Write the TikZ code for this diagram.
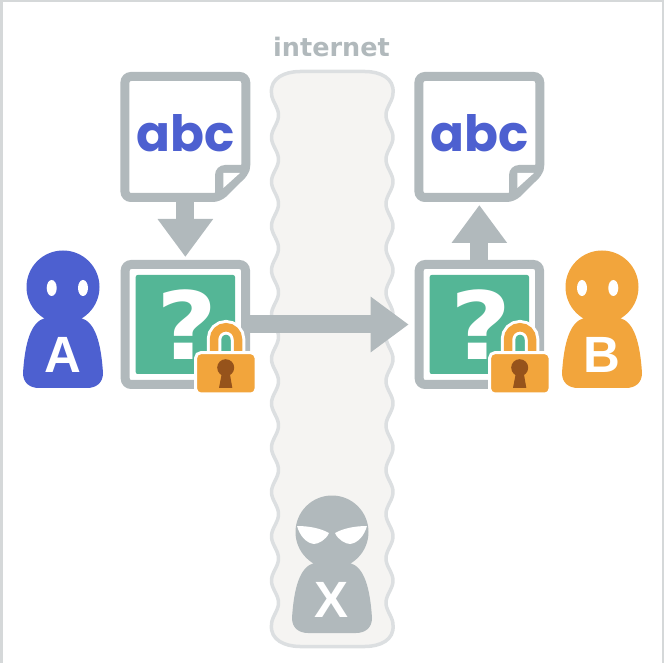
\documentclass[tikz,border=0pt]{standalone}
\usepackage{fontspec}
\setmainfont{Liberation Sans}
\newfontfamily\widefont{DejaVu Sans}
\newfontfamily\roundfont{Poppins}
\usetikzlibrary{arrows.meta}
\definecolor{hue}{HTML}{B1B9BC}
\definecolor{bluish}{HTML}{4D60D0}
\definecolor{amber}{HTML}{F2A53C}
\definecolor{mint}{HTML}{54B696}
\definecolor{brownish}{HTML}{96531B}
\definecolor{band}{HTML}{F5F4F2}
\definecolor{bandline}{HTML}{DCDFE1}
\definecolor{edgeline}{HTML}{D5D8D9}
\tikzset{
  connect/.style={-{Triangle[length=38pt,width=53pt]}, line width=18pt, draw=hue},
  caption/.style={inner sep=0pt, font=\widefont\bfseries\fontsize{25.5}{26}\selectfont, text=hue},
  letter/.style={inner sep=0pt, text=white, font=\bfseries\fontsize{51}{51}\selectfont},
  eye/.style={fill=white},
  pics/person/.style 2 args={code={
    \fill[#1] (0,0) circle[radius=36.5];
    \fill[#1] (-18,31) .. controls (-32,35) and (-38,55) .. (-40,86)
       .. controls (-40,96) and (-33,101) .. (-24,101) -- (24,101)
       .. controls (33,101) and (40,96) .. (40,86)
       .. controls (38,55) and (32,35) .. (18,31) -- cycle;
    \node[letter] (-letter) at (0,68) {#2};
  }},
  pics/roundeyes/.style={code={
    \fill[eye] (-11.3,1) ellipse[x radius=5, y radius=8];
    \fill[eye] (20,1) ellipse[x radius=5, y radius=8];
  }},
  pics/angryeyes/.style={code={
    \fill[eye] (-35,-6) .. controls (-24,-6) and (-12,-4) .. (-3,1)
       .. controls (-6,8) and (-14,12) .. (-18,12)
       .. controls (-26,11) and (-32,4) .. (-35,-6) -- cycle;
    \fill[eye] (35,-6) .. controls (24,-6) and (12,-4) .. (3,1)
       .. controls (6,8) and (14,12) .. (18,12)
       .. controls (26,11) and (32,4) .. (35,-6) -- cycle;
  }},
  pics/docpage/.style={code={
    \node[minimum width=129.3pt, minimum height=130pt, outer sep=0pt] (-frame) at (0,0) {};
    \draw[hue, fill=white, line width=9pt, rounded corners=6pt]
       (-60.4,-60.5) -- (60.4,-60.5) -- (60.4,34) -- (33.5,60.5) -- (-60.4,60.5) -- cycle;
    \fill[hue] (29.65,60) -- (29.65,38) arc[start angle=180, end angle=270, radius=10] -- (64,28) -- (64,34) -- (36,60) -- cycle;
    \fill[white] (38,36) -- (54.6,36) -- (38,51) -- cycle;
    \node[anchor=base, inner sep=0pt, text=bluish, font=\roundfont\bfseries\fontsize{50}{50}\selectfont]
       (-text) at (0,15) {abc};
  }},
  pics/lockedbox/.style={code={
    \node[draw=hue, fill=white, line width=9pt, rounded corners=6pt,
          minimum width=120.3pt, minimum height=120pt] (-frame) at (0,0) {};
    \node[fill=mint, rounded corners=2pt, minimum width=99.3pt, minimum height=99pt] (-inner) at (0,0) {};
    \node[inner sep=0pt, text=white, xscale=1.12, transform shape,
          font=\widefont\bfseries\fontsize{94}{94}\selectfont] (-mark) at (1.5,0) {?};
    \draw[white, line width=14.5pt, rounded corners=12pt]
       (28.65,30) -- (28.65,2.75) -- (52.65,2.75) -- (52.65,30);
    \draw[amber, line width=8.5pt, rounded corners=12pt]
       (28.65,30) -- (28.65,2.75) -- (52.65,2.75) -- (52.65,30);
    \draw[white, fill=amber, line width=3pt, rounded corners=5pt] (10.35,28.2) rectangle (70.65,69.5);
    \fill[brownish] (40.35,43.2) circle[radius=8.5];
    \fill[brownish] (37,46) -- (44,46) -- (46.95,63.5) -- (33.65,63.5) -- cycle;
  }}
}

\begin{document}
\begin{tikzpicture}[x=1pt,y=-1pt]
    \useasboundingbox (0,0) rectangle (665,663);
    \draw[edgeline, line width=2.5pt] (1.5,670) -- (1.5,1) -- (663,1) -- (663,670);

    \draw[bandline, fill=band, line width=3.5pt, line join=round]
        (271.5,93) .. controls (270,78) and (285,71.5) .. (300,71.5) -- (365,71.5)
        .. controls (380,71.5) and (394.5,78) .. (393,93)
        -- plot[domain=93:625,samples=300] ({389.5+3.5*cos(8.121*(\x-93))},\x)
        .. controls (394.5,640) and (380,646.5) .. (365,646.5) -- (300,646.5)
        .. controls (285,646.5) and (270,640) .. (271.5,625)
        -- plot[domain=625:93,samples=300] ({275-3.5*cos(8.121*(\x-93))},\x) -- cycle;
    \node[caption] (Internet) at (331.5,47) {internet};

    \pic (DocA) at (185.35,137) {docpage};
    \pic (DocB) at (479.35,137) {docpage};
    \pic (BoxA) at (185.35,324.5) {lockedbox};
    \pic (BoxB) at (479.35,324.5) {lockedbox};

    \pic (PersonA) at (63,287) {person={bluish}{A}};
    \pic at (63,287) {roundeyes};
    \pic (PersonB) at (602,287) {person={amber}{B}};
    \pic[xscale=-1] at (602,287) {roundeyes};
    \pic (PersonX) at (332,532) {person={hue}{X}};
    \pic at (332,532) {angryeyes};

    \draw[connect, shorten >=3pt] (DocA-frame.south) -- (BoxA-frame.north);
    \draw[connect, shorten >=6pt] (BoxA-frame.east) -- (BoxB-frame.west);
    \draw[connect, shorten >=3pt] (BoxB-frame.north) -- (DocB-frame.south);
\end{tikzpicture}
\end{document}
